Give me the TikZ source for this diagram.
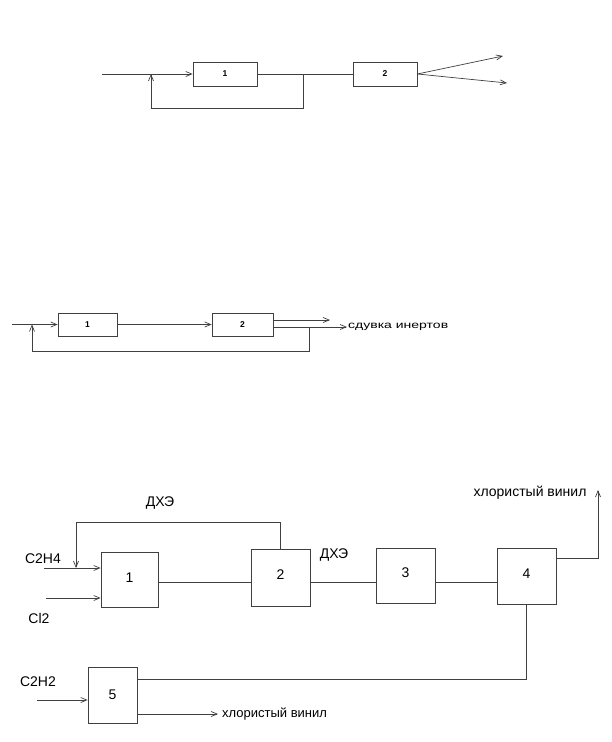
\documentclass[tikz,border=0pt]{standalone}
\usepackage{fontspec}
\setmainfont{Liberation Sans}
\usetikzlibrary{arrows.meta}
\begin{document}
\begin{tikzpicture}[x=1pt,y=-1pt,
 line/.style={draw=black!75, line width=0.7pt},
 arr/.style={line, -{Straight Barb[length=6pt,width=5pt]}},
 sbox/.style={draw=black!75, line width=0.7pt, inner sep=0pt, font=\fontsize{8.5}{9}\selectfont\bfseries},
 bbox/.style={draw=black!75, line width=0.8pt, inner sep=0pt, font=\fontsize{14}{16}\selectfont},
 lbl/.style={inner sep=0pt, font=\fontsize{14}{16}\selectfont}]
\useasboundingbox (0,0) rectangle (611,742);
% ---------- top scheme ----------
\node[sbox, minimum width=64pt, minimum height=24pt] (t1) at (225,74) {1};
\node[sbox, minimum width=64pt, minimum height=24pt] (t2) at (385,74) {2};
\coordinate (tin) at (102,74);
\coordinate (tj) at (303,74);
\coordinate (tfb) at (151,74);
\coordinate (to1) at (503,56);
\coordinate (to2) at (507,83);
\draw[arr] (tin) -- (t1);
\draw[line] (t1) -- (t2);
\draw[arr] (tj) -- ++(0,34) -| (tfb);
\draw[arr] (t2.east) -- (to1);
\draw[arr] (t2.east) -- (to2);
% ---------- middle scheme ----------
\node[sbox, minimum width=59pt, minimum height=23pt] (m1) at (87.5,324.5) {1};
\node[sbox, minimum width=61pt, minimum height=23pt] (m2) at (242.5,324.5) {2};
\coordinate (min) at (12,324.5);
\coordinate (mfb) at (32,324.5);
\coordinate (mo1) at (330,320);
\coordinate (mo2) at (347,327);
\coordinate (mj) at (309,327);
\draw[arr] (min) -- (m1);
\draw[arr] (m1) -- (m2);
\draw[arr] (m2.east |- mo1) -- (mo1);
\draw[arr] (m2.east |- mo2) -- (mo2);
\draw[arr] (mj) -- ++(0,24) -| (mfb);
\node[anchor=west, inner sep=0pt, font=\fontsize{10}{12}\selectfont] (mlab) at (348,327) {\scalebox{1.4}[1]{сдувка инертов}};
% ---------- bottom scheme ----------
\node[bbox, minimum width=57pt, minimum height=55pt] (b1) at (129.5,579.5) {\raisebox{4pt}{1}};
\node[bbox, minimum width=59pt, minimum height=57pt] (b2) at (280.5,577.5) {\raisebox{5pt}{2}};
\node[bbox, minimum width=59pt, minimum height=55pt] (b3) at (405.5,575.5) {\raisebox{5pt}{3}};
\node[bbox, minimum width=59pt, minimum height=56pt] (b4) at (526.5,576) {\raisebox{4pt}{4}};
\node[bbox, minimum width=49pt, minimum height=56pt] (b5) at (112.5,695) {5};
\coordinate (hy) at (0,582);
\draw[line] (b1.east |- hy) -- (b2.west |- hy);
\draw[line] (b2.east |- hy) -- (b3.west |- hy);
\draw[line] (b3.east |- hy) -- (b4.west |- hy);
\coordinate (c2h4) at (44,568);
\coordinate (cl2) at (46,598);
\coordinate (rc) at (76,568);
\draw[arr] (c2h4) -- (b1.west |- c2h4);
\draw[arr] (cl2) -- (b1.west |- cl2);
\draw[arr] (b2.north) -- ++(0,-26) -| (rc);
\node[lbl] (lc2h4) at (43,559) {C2H4};
\node[lbl] (lcl2) at (39,618) {Cl2};
\node[lbl] (ldxe1) at (160,503) {ДХЭ};
\node[lbl] (ldxe2) at (334,555) {ДХЭ};
\coordinate (y4) at (0,558);
\coordinate (vc) at (598,490);
\draw[arr] (b4.east |- y4) -| (vc);
\node[lbl] (lvin1) at (530,493) {хлористый винил};
\coordinate (y5) at (0,679);
\draw[line] (b4.south) |- (b5.east |- y5);
\coordinate (c2h2) at (37,700);
\draw[arr] (c2h2) -- (b5.west |- c2h2);
\node[lbl] (lc2h2) at (38,682) {C2H2};
\coordinate (vo) at (218,714);
\draw[arr] (b5.east |- vo) -- (vo);
\node[lbl, anchor=west, font=\fontsize{13}{15}\selectfont] (lvin2) at (222,714) {хлористый винил};
\end{tikzpicture}
\end{document}
